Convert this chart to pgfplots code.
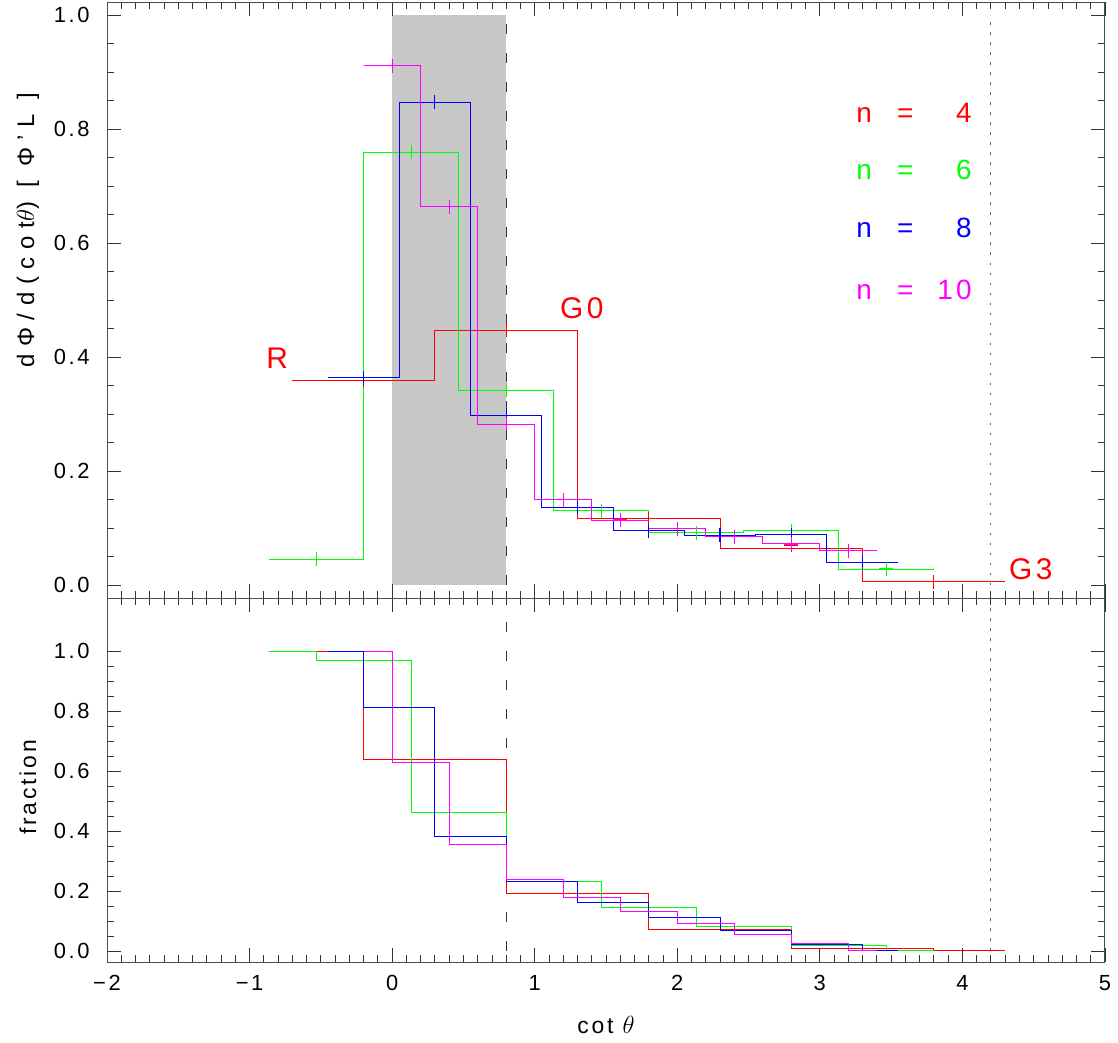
\documentclass[border=0pt]{standalone}
\usepackage{fontspec}
\setmainfont{Liberation Sans}[LetterSpace=12]
\usepackage{pgfplots}
\pgfplotsset{compat=1.18}

\definecolor{cR}{RGB}{255,0,0}
\definecolor{cG}{RGB}{0,255,0}
\definecolor{cB}{RGB}{0,0,255}
\definecolor{cM}{RGB}{255,0,255}
\definecolor{shade}{RGB}{200,200,200}

\pgfplotsset{
  panel/.style={
    scale only axis, width=998bp,
    xmin=-2, xmax=5,
    xtick={-2,-1,0,1,2,3,4,5},
    minor x tick num=9, minor y tick num=3,
    tick align=inside,
    major tick length=14bp, minor tick length=7bp,
    axis line style={black!70, line width=0.9bp},
    tick style={black!80, line width=0.8bp},
    tick label style={font=\fontsize{22}{22}\selectfont},
    label style={font=\fontsize{23}{23}\selectfont},
    /pgf/number format/assume math mode=true,
    yticklabel style={/pgf/number format/fixed, /pgf/number format/fixed zerofill,
      /pgf/number format/precision=1},
    yticklabel shift=14bp,
    xticklabel shift=10bp,
    axis on top,
  },
  hist/.style={const plot, line width=1bp, no marks},
  crs/.style={only marks, mark=+, mark size=7bp, mark options={line width=1.1bp}},
}

\begin{document}
\begin{tikzpicture}
\begin{axis}[panel, name=top, at={(0,0)}, anchor=south west,
  height=596bp, ymin=-0.0228, ymax=1.0228,
  ytick={0,0.2,0.4,0.6,0.8,1.0},
  xticklabels={},
  ylabel={\addfontfeatures{LetterSpace=32}dΦ/d(cot$\theta$) [ Φ'L ]},
  ylabel style={at={(axis description cs:-0.0792,0.617)}, anchor=center,
    font=\fontsize{24}{24}\selectfont},
]
% shaded range and reference lines
\addplot[fill=shade, draw=none] coordinates {(0,0) (0,1) (0.8,1) (0.8,0)} -- cycle;
\addplot[black!80, line width=0.9bp, dash pattern=on 10bp off 19bp] coordinates {(0.8,0) (0.8,1)};
\addplot[black!60, line width=1.2bp, dash pattern=on 2.5bp off 7.5bp] coordinates {(4.2,0) (4.2,1)};

% n = 4
\addplot[hist, cR] coordinates {(-0.7,0.359) (0.3,0.447) (1.3,0.116) (2.3,0.064) (3.3,0.006) (4.3,0.006)};
\addplot[crs, cR] coordinates {(-0.2,0.359) (0.8,0.447) (1.8,0.116) (2.8,0.070) (3.8,0.006)};
% n = 6
\addplot[hist, cG] coordinates {(-0.867,0.045) (-0.2,0.759) (0.467,0.342) (1.133,0.130) (1.8,0.092) (2.467,0.095) (3.133,0.028) (3.8,0.028)};
\addplot[crs, cG] coordinates {(-0.533,0.045) (0.133,0.759) (0.8,0.342) (1.467,0.130) (2.133,0.092) (2.8,0.095) (3.467,0.028)};
% n = 8
\addplot[hist, cB] coordinates {(-0.45,0.364) (0.05,0.847) (0.55,0.298) (1.05,0.136) (1.55,0.095) (2.05,0.087) (2.55,0.088) (3.05,0.040) (3.55,0.040)};
\addplot[crs, cB] coordinates {(-0.2,0.364) (0.3,0.847) (0.8,0.298) (1.3,0.136) (1.8,0.095) (2.3,0.087) (2.8,0.088) (3.3,0.040)};
% n = 10
\addplot[hist, cM] coordinates {(-0.2,0.911) (0.2,0.664) (0.6,0.282) (1.0,0.150) (1.4,0.114) (1.8,0.099) (2.2,0.085) (2.6,0.072) (3.0,0.060) (3.4,0.060)};
\addplot[crs, cM] coordinates {(0.0,0.911) (0.4,0.664) (0.8,0.282) (1.2,0.150) (1.6,0.114) (2.0,0.099) (2.4,0.085) (2.8,0.072) (3.2,0.060)};

\node[cR, font=\fontsize{30}{30}\selectfont, anchor=base] at (axis cs:-0.806,0.379) {R};
\node[cR, font=\fontsize{30}{30}\selectfont, anchor=base] at (axis cs:1.33,0.468) {G0};
\node[cR, font=\fontsize{30}{30}\selectfont, anchor=base] at (axis cs:4.48,0.010) {G3};

\begin{scope}[font=\fontsize{28}{28}\selectfont]
\node[cR, anchor=base] at (axis cs:3.31,0.812) {n};
\node[cR, anchor=base] at (axis cs:3.60,0.812) {=};
\node[cR, anchor=base east] at (axis cs:4.09,0.812) {4};
\node[cG, anchor=base] at (axis cs:3.31,0.711) {n};
\node[cG, anchor=base] at (axis cs:3.60,0.711) {=};
\node[cG, anchor=base east] at (axis cs:4.09,0.711) {6};
\node[cB, anchor=base] at (axis cs:3.31,0.609) {n};
\node[cB, anchor=base] at (axis cs:3.60,0.609) {=};
\node[cB, anchor=base east] at (axis cs:4.09,0.609) {8};
\node[cM, anchor=base] at (axis cs:3.31,0.500) {n};
\node[cM, anchor=base] at (axis cs:3.60,0.500) {=};
\node[cM, anchor=base east] at (axis cs:4.09,0.500) {10};
\end{scope}
\end{axis}

\begin{axis}[panel, at={(0,0)}, anchor=north west,
  height=364bp, ymin=-0.0367, ymax=1.1767,
  ytick={0,0.2,0.4,0.6,0.8,1.0},
  xticklabels={−2,−1,0,1,2,3,4,5},
  xlabel={cot $\theta$},
  xlabel style={at={(axis description cs:0.5,-0.173)}, anchor=center},
  ylabel={fraction},
  ylabel style={at={(axis description cs:-0.0792,0.48)}, anchor=center},
]
\addplot[black!80, line width=0.9bp, dash pattern=on 10bp off 19bp] coordinates {(0.8,0) (0.8,1.1767)};
\addplot[black!60, line width=1.2bp, dash pattern=on 2.5bp off 7.5bp] coordinates {(4.2,0) (4.2,1.1767)};

\addplot[hist, cR] coordinates {(-0.7,1.0) (-0.2,0.639) (0.8,0.190) (1.8,0.073) (2.8,0.007) (3.8,0.0) (4.3,0.0)};
\addplot[hist, cG] coordinates {(-0.867,1.0) (-0.533,0.969) (0.133,0.463) (0.8,0.231) (1.467,0.144) (2.133,0.082) (2.8,0.017) (3.467,0.0) (3.8,0.0)};
\addplot[hist, cB] coordinates {(-0.45,1.0) (-0.2,0.813) (0.3,0.383) (0.8,0.230) (1.3,0.160) (1.8,0.111) (2.3,0.067) (2.8,0.021) (3.3,0.0) (3.55,0.0)};
\addplot[hist, cM] coordinates {(-0.2,1.0) (0.0,0.627) (0.4,0.354) (0.8,0.239) (1.2,0.178) (1.6,0.130) (2.0,0.090) (2.4,0.054) (2.8,0.024) (3.2,0.0) (3.4,0.0)};
\end{axis}

\pgfresetboundingbox
\path[use as bounding box] (-107bp,-445bp) rectangle (1011bp,598bp);
\end{tikzpicture}
\end{document}
